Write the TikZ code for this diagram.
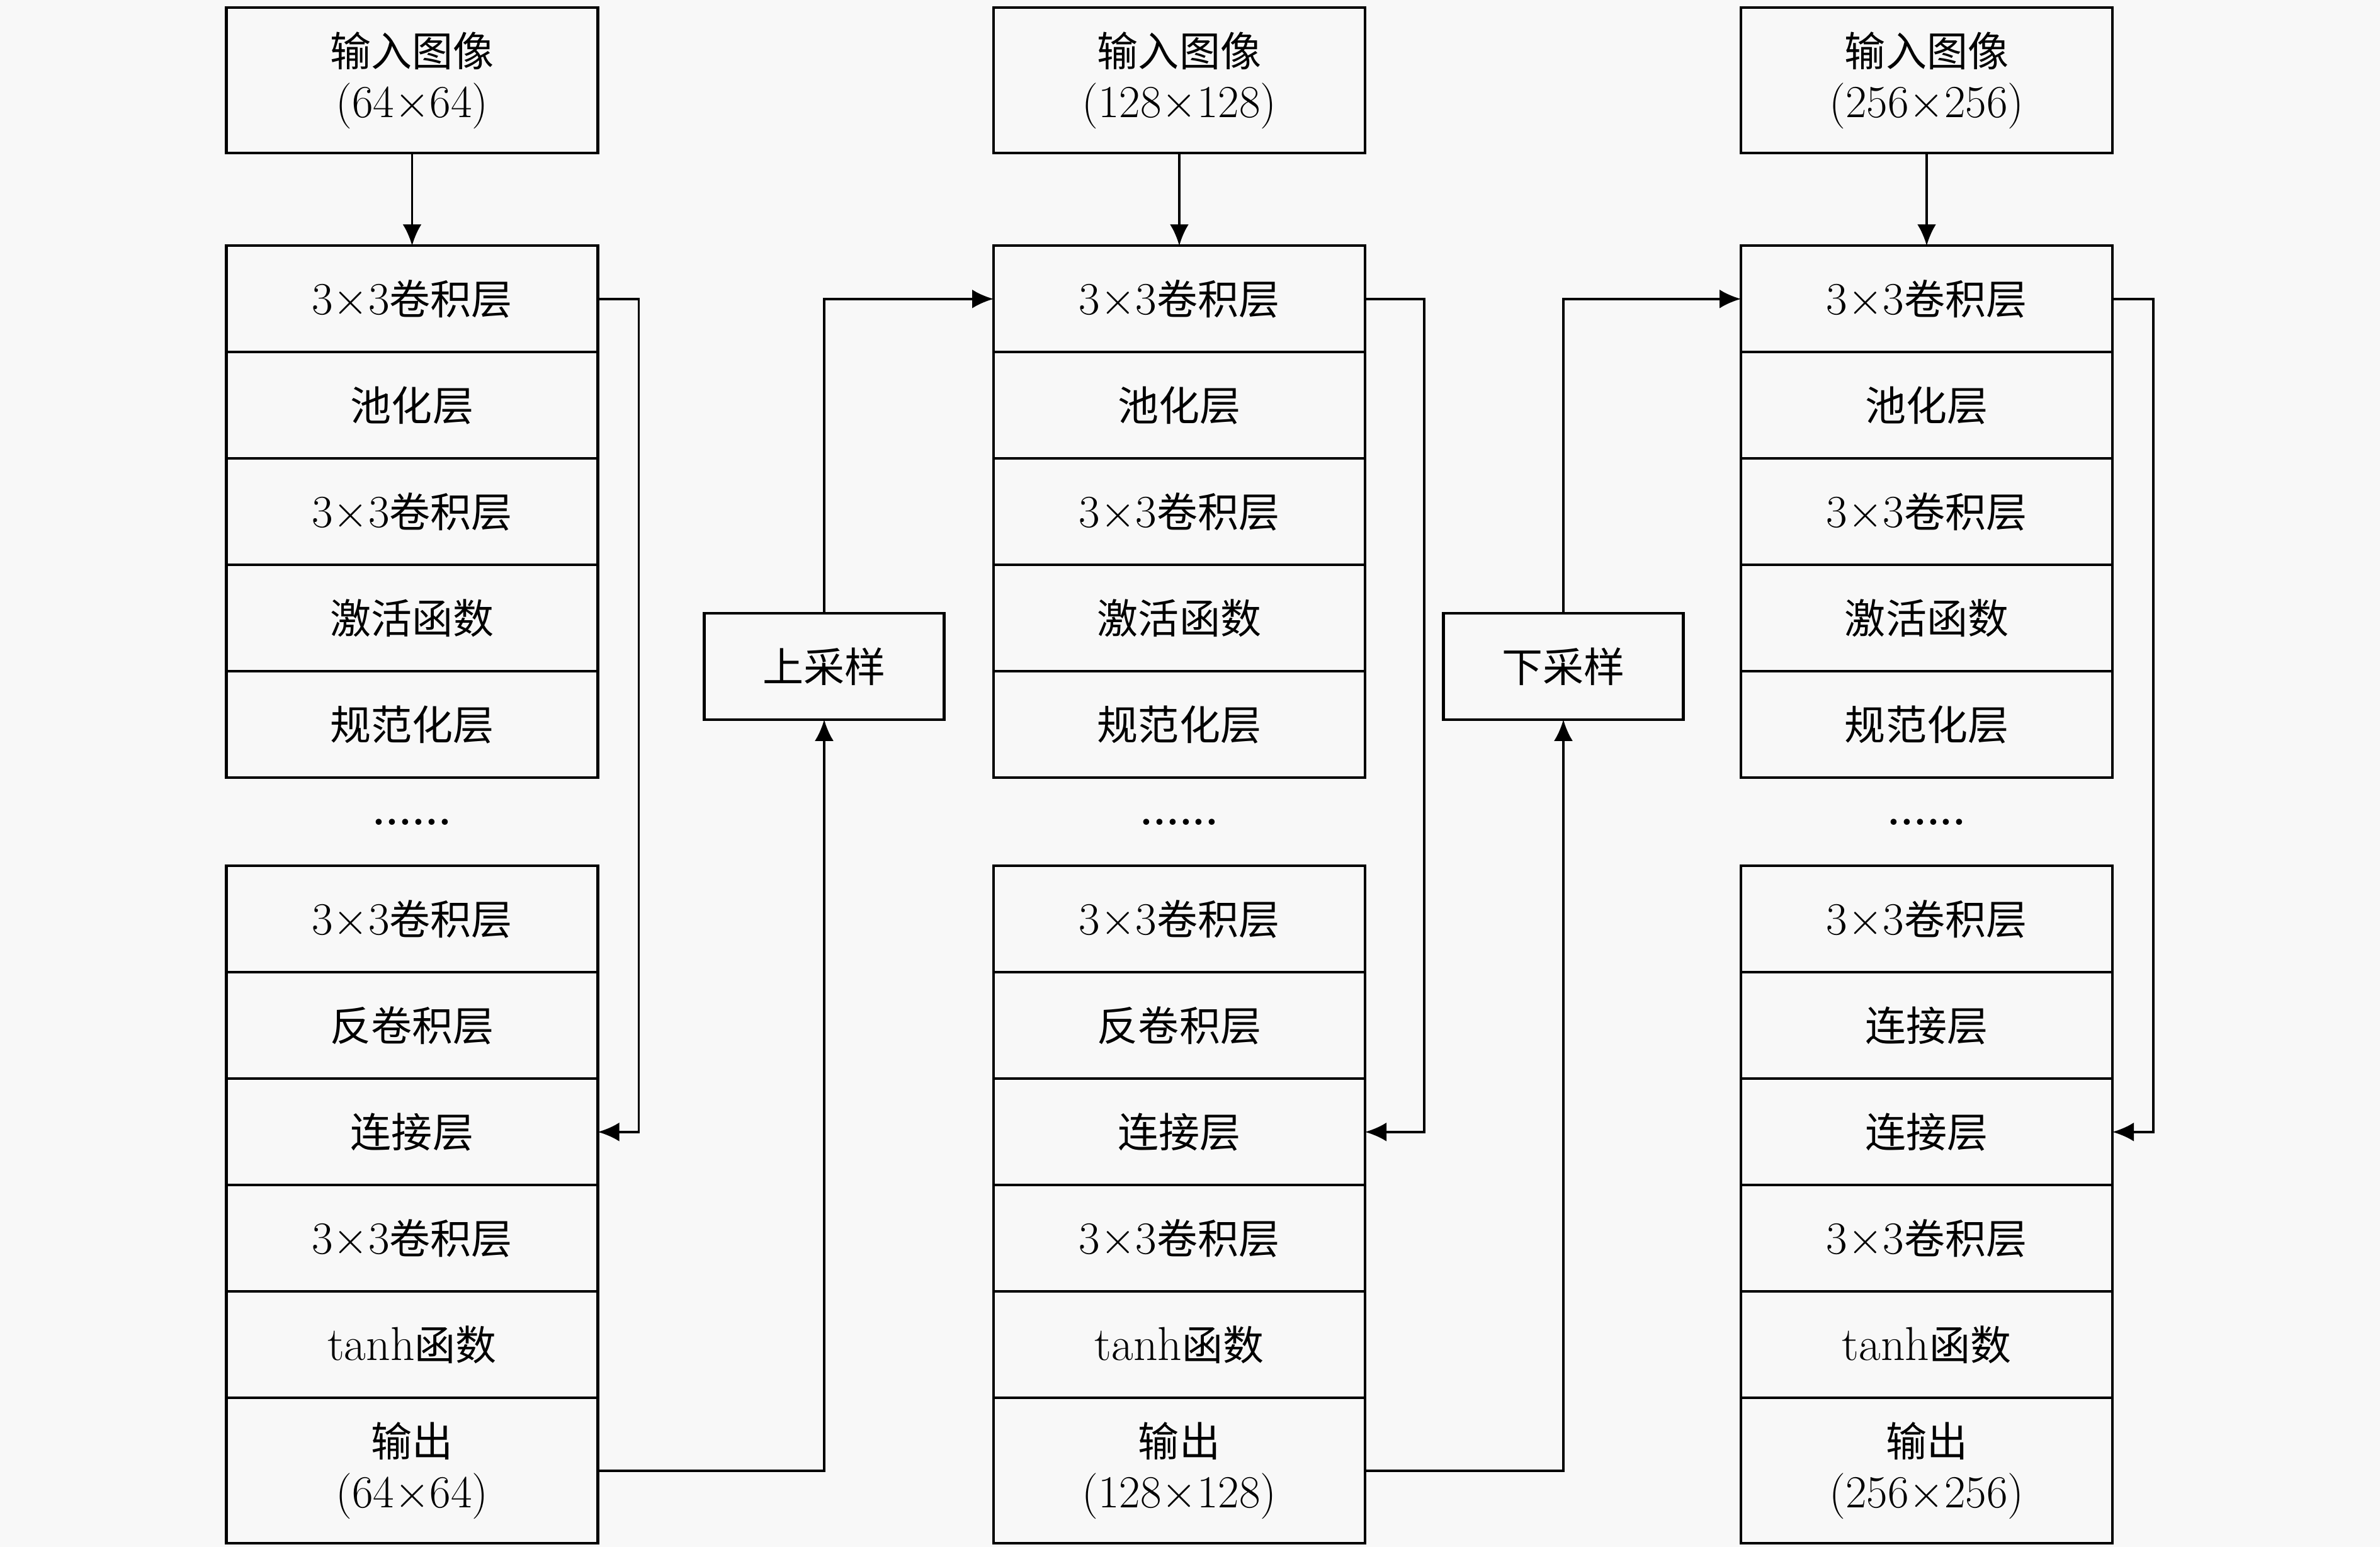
\documentclass[tikz,border=0pt]{standalone}
\usepackage{fontspec}
\newfontfamily\cjk{Noto Sans CJK SC}
\usetikzlibrary{positioning,arrows.meta,calc}
\definecolor{paper}{RGB}{248,248,248}
\newcommand\lm[1]{{\fontsize{21.5}{23}\selectfont$#1$}}

\begin{document}
\begin{tikzpicture}[
    unit/.style={draw, line width=1.2pt, fill=paper, minimum width=5.9cm, minimum height=1.69cm,
                 inner sep=0pt, outer sep=0pt, align=center, font=\cjk\fontsize{18.5}{23}\selectfont},
    tall/.style={unit, minimum height=2.31cm},
    sampler/.style={unit, minimum width=3.81cm},
    dots/.style={inner sep=0pt, font=\bfseries\fontsize{19}{22}\selectfont},
    link/.style={line width=1.1pt, -{Latex[length=0.34cm, width=0.3cm]}}
]

\fill[paper] (0,0) rectangle (37.8,-24.565);
\useasboundingbox (0,0) rectangle (37.8,-24.565);

% Column 1

\node[tall] (in1) at (6.545,-1.278) {输入图像\\\lm{(64{\times}64)}};
\node[unit, below=1.47cm of in1] (convA1) {\lm{3{\times}3}卷积层};
\node[unit, below=0 of convA1] (pool1) {池化层};
\node[unit, below=0 of pool1] (convB1) {\lm{3{\times}3}卷积层};
\node[unit, below=0 of convB1] (act1) {激活函数};
\node[unit, below=0 of act1] (norm1) {规范化层};
\node[unit, below=1.40cm of norm1] (convC1) {\lm{3{\times}3}卷积层};
\node[dots] (gap1) at ($(norm1.south)!0.5!(convC1.north)$) {......};
\node[unit, below=0 of convC1] (deconv1) {反卷积层};
\node[unit, below=0 of deconv1] (cat1) {连接层};
\node[unit, below=0 of cat1] (convD1) {\lm{3{\times}3}卷积层};
\node[unit, below=0 of convD1] (tanh1) {\lm{\tanh}函数};
\node[tall, below=0 of tanh1] (out1) {输出\\\lm{(64{\times}64)}};

% Column 2

\node[tall] (in2) at (18.73,-1.278) {输入图像\\\lm{(128{\times}128)}};
\node[unit, below=1.47cm of in2] (convA2) {\lm{3{\times}3}卷积层};
\node[unit, below=0 of convA2] (pool2) {池化层};
\node[unit, below=0 of pool2] (convB2) {\lm{3{\times}3}卷积层};
\node[unit, below=0 of convB2] (act2) {激活函数};
\node[unit, below=0 of act2] (norm2) {规范化层};
\node[unit, below=1.40cm of norm2] (convC2) {\lm{3{\times}3}卷积层};
\node[dots] (gap2) at ($(norm2.south)!0.5!(convC2.north)$) {......};
\node[unit, below=0 of convC2] (deconv2) {反卷积层};
\node[unit, below=0 of deconv2] (cat2) {连接层};
\node[unit, below=0 of cat2] (convD2) {\lm{3{\times}3}卷积层};
\node[unit, below=0 of convD2] (tanh2) {\lm{\tanh}函数};
\node[tall, below=0 of tanh2] (out2) {输出\\\lm{(128{\times}128)}};

% Column 3

\node[tall] (in3) at (30.60,-1.278) {输入图像\\\lm{(256{\times}256)}};
\node[unit, below=1.47cm of in3] (convA3) {\lm{3{\times}3}卷积层};
\node[unit, below=0 of convA3] (pool3) {池化层};
\node[unit, below=0 of pool3] (convB3) {\lm{3{\times}3}卷积层};
\node[unit, below=0 of convB3] (act3) {激活函数};
\node[unit, below=0 of act3] (norm3) {规范化层};
\node[unit, below=1.40cm of norm3] (convC3) {\lm{3{\times}3}卷积层};
\node[dots] (gap3) at ($(norm3.south)!0.5!(convC3.north)$) {......};
\node[unit, below=0 of convC3] (catA3) {连接层};
\node[unit, below=0 of catA3] (cat3) {连接层};
\node[unit, below=0 of cat3] (convD3) {\lm{3{\times}3}卷积层};
\node[unit, below=0 of convD3] (tanh3) {\lm{\tanh}函数};
\node[tall, below=0 of tanh3] (out3) {输出\\\lm{(256{\times}256)}};

% Resampling

\node[sampler] (up) at (13.09,-10.583) {上采样};
\node[sampler] (down) at (24.83,-10.583) {下采样};

% Edges

\draw[link] (in1) -- (convA1);
\draw[link] (in2) -- (convA2);
\draw[link] (in3) -- (convA3);

\draw[link] (convA1.east) -- ++(0.65,0) |- (cat1.east);
\draw[link] (convA2.east) -- ++(0.94,0) |- (cat2.east);
\draw[link] (convA3.east) -- ++(0.65,0) |- (cat3.east);

\draw[link] (out1.east) -| (up.south);
\draw[link] (up.north) |- (convA2.west);
\draw[link] (out2.east) -| (down.south);
\draw[link] (down.north) |- (convA3.west);

\end{tikzpicture}
\end{document}
